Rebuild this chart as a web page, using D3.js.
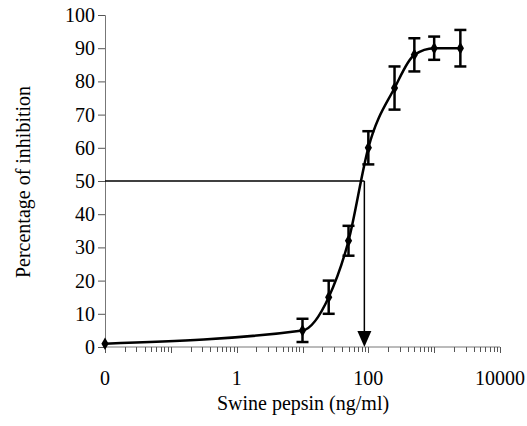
<!DOCTYPE html>
<html>
<head>
<meta charset="utf-8">
<script src="https://cdn.jsdelivr.net/npm/d3@7"></script>
<style>
  body { margin: 0; background: #fff; }
  text { font-family: "Liberation Serif", "Times New Roman", serif; fill: #000; }
</style>
</head>
<body>
<div id="chart"></div>
<script>
// swine pepsin concentration (ng/ml), 0 is drawn at 0.01 on the log axis
const doses = [0.01, 10, 25, 50, 100, 250, 500, 1000, 2500];
const inhibition = [1, 5, 15, 32, 60, 78, 88, 90, 90];
const errors = [0, 3.5, 5, 4.5, 5, 6.5, 5, 3.5, 5.5];
const xTickValues = [0.01, 1, 100, 10000];
const xTickLabels = ['0', '1', '100', '10000'];
const yTickValues = [0, 10, 20, 30, 40, 50, 60, 70, 80, 90, 100];
const ic50 = 87;

const width = 527, height = 426;

const svg = d3.select('#chart')
    .append('svg')
    .attr('width', width)
    .attr('height', height);

const x = d3.scaleLog().domain([0.01, 10000]).range([105, 500]);
const y = d3.scaleLinear().domain([0, 100]).range([347, 15]);

// x axis with log minor ticks pointing down
const minor = [];
for (let e = -2; e < 4; e++) {
    for (let k = 1; k <= 9; k++) minor.push(k * Math.pow(10, e));
}
minor.push(10000);

svg.append('line')
    .attr('x1', x.range()[0]).attr('x2', x.range()[1])
    .attr('y1', y(0)).attr('y2', y(0))
    .attr('stroke', '#777').attr('stroke-width', 1);

svg.append('g')
    .selectAll('line')
    .data(minor)
    .enter()
    .append('line')
    .attr('x1', d => Math.round(x(d)) + 0.5)
    .attr('x2', d => Math.round(x(d)) + 0.5)
    .attr('y1', y(0))
    .attr('y2', d => y(0) + (Math.abs(Math.log10(d) % 1) < 1e-9 ? 6 : 5))
    .attr('stroke', '#555').attr('stroke-width', 1);

svg.append('g')
    .selectAll('text')
    .data(xTickValues)
    .enter()
    .append('text')
    .attr('x', d => x(d))
    .attr('y', 385)
    .attr('text-anchor', 'middle')
    .attr('font-size', 20)
    .text((d, i) => xTickLabels[i]);

// y axis
const yAxis = svg.append('g')
    .attr('transform', `translate(${x.range()[0]},0)`)
    .call(d3.axisLeft(y).tickValues(yTickValues).tickSize(7).tickPadding(3));
yAxis.attr('font-family', null);
yAxis.select('.domain').attr('stroke', '#777');
yAxis.selectAll('.tick line').attr('stroke', '#555');
yAxis.selectAll('.tick text')
    .attr('font-size', 20)
    .attr('fill', '#000');

// axis titles
svg.append('text')
    .attr('x', 303)
    .attr('y', 410)
    .attr('text-anchor', 'middle')
    .attr('font-size', 20)
    .text('Swine pepsin (ng/ml)');

svg.append('text')
    .attr('transform', 'translate(30,182) rotate(-90)')
    .attr('text-anchor', 'middle')
    .attr('font-size', 20)
    .text('Percentage of inhibition');

// IC50 guide: horizontal line at 50% then arrow down to the axis
svg.append('line')
    .attr('x1', x(0.01)).attr('x2', x(ic50))
    .attr('y1', y(50)).attr('y2', y(50))
    .attr('stroke', '#000').attr('stroke-width', 1.5);
svg.append('line')
    .attr('x1', x(ic50)).attr('x2', x(ic50))
    .attr('y1', y(50)).attr('y2', y(0) - 14)
    .attr('stroke', '#000').attr('stroke-width', 1.5);
svg.append('path')
    .attr('d', `M${x(ic50) - 7},${y(0) - 16}L${x(ic50) + 7},${y(0) - 16}L${x(ic50)},${y(0)}Z`)
    .attr('fill', '#000');

const points = doses.map((d, i) => ({ dose: d, value: inhibition[i], err: errors[i] }));

// smoothed curve
const line = d3.line()
    .x(d => x(d.dose))
    .y(d => y(d.value))
    .curve(d3.curveMonotoneX);

svg.append('path')
    .datum(points)
    .attr('d', line)
    .attr('fill', 'none')
    .attr('stroke', '#000')
    .attr('stroke-width', 2.5);

// error bars
const bars = svg.append('g')
    .selectAll('g')
    .data(points.filter(p => p.err > 0))
    .enter()
    .append('g')
    .attr('stroke', '#000')
    .attr('stroke-width', 2.5);

bars.append('line')
    .attr('x1', d => x(d.dose)).attr('x2', d => x(d.dose))
    .attr('y1', d => y(d.value - d.err)).attr('y2', d => y(d.value + d.err));
bars.append('line')
    .attr('x1', d => x(d.dose) - 6).attr('x2', d => x(d.dose) + 6)
    .attr('y1', d => y(d.value + d.err)).attr('y2', d => y(d.value + d.err));
bars.append('line')
    .attr('x1', d => x(d.dose) - 6).attr('x2', d => x(d.dose) + 6)
    .attr('y1', d => y(d.value - d.err)).attr('y2', d => y(d.value - d.err));

// diamond markers
svg.append('g')
    .selectAll('path')
    .data(points)
    .enter()
    .append('path')
    .attr('transform', d => `translate(${x(d.dose)},${y(d.value)})`)
    .attr('d', d3.symbol().type(d3.symbolDiamond).size(45))
    .attr('fill', '#000');
</script>
</body>
</html>
